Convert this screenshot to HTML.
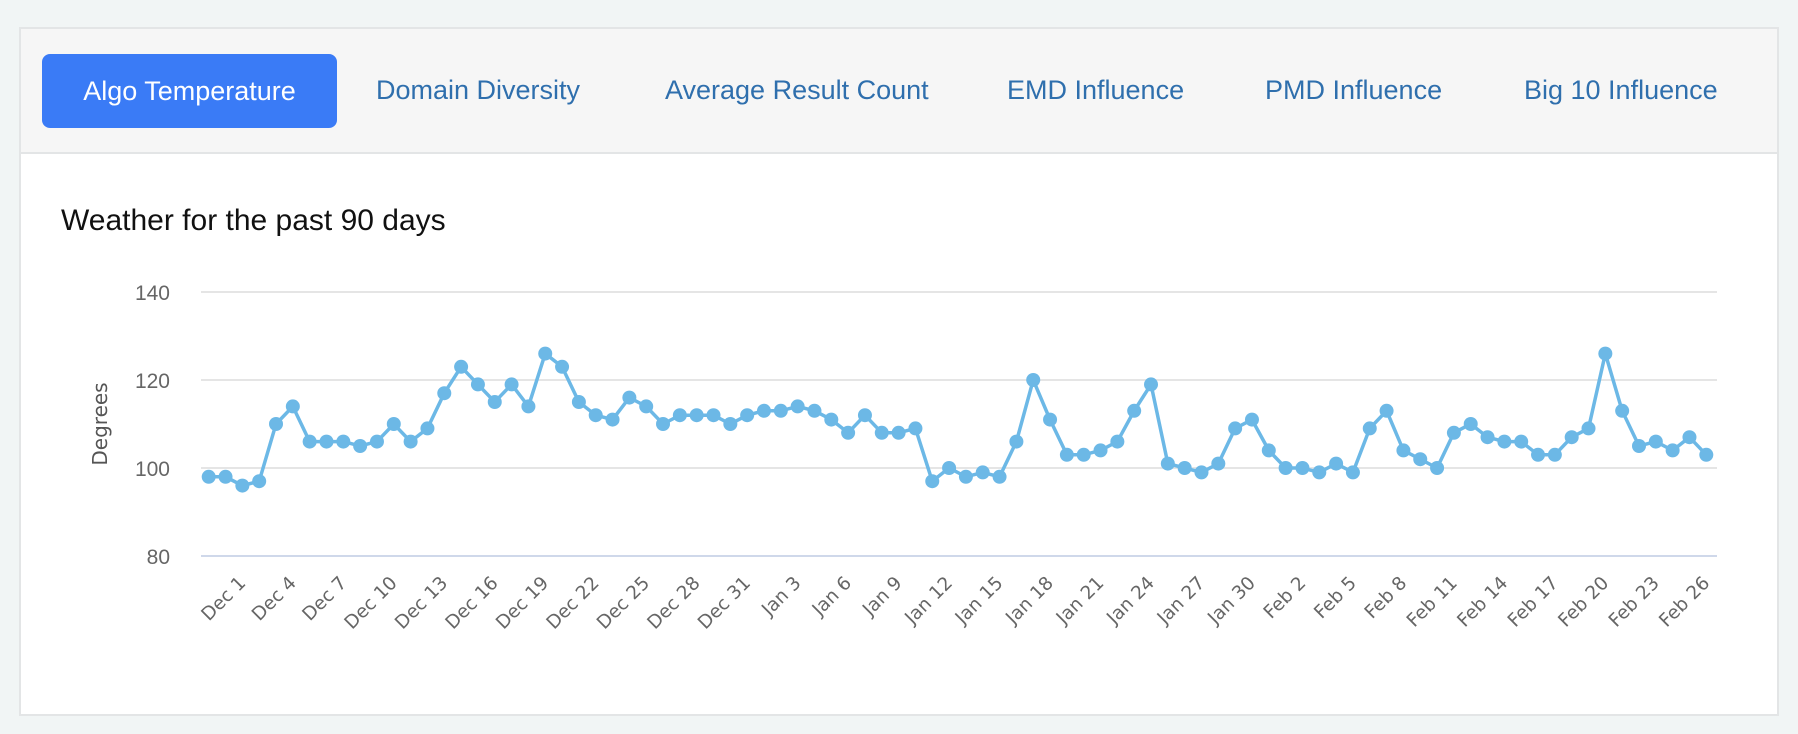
<!DOCTYPE html>
<html><head><meta charset="utf-8"><style>
body{margin:0;width:1798px;height:734px;background:#f1f5f5;font-family:"Liberation Sans",sans-serif;position:relative;overflow:hidden}
.card{position:absolute;left:19px;top:27px;width:1756px;height:685px;background:#fff;border:2px solid #e3e5e6}
.tabs{position:absolute;left:0;top:0;width:100%;height:123px;background:#f6f6f6;border-bottom:2px solid #e3e5e6}
.tab{position:absolute;top:0;height:123px;line-height:123px;font-size:27px;color:#2f6fad;white-space:nowrap}
.btn{position:absolute;left:21px;top:25px;width:295px;height:74px;background:#3a7bf6;border-radius:8px;color:#fff;font-size:27px;line-height:74px;text-align:center}
</style></head><body>
<div class="card">
 <div class="tabs">
  <div class="btn">Algo Temperature</div>
  <div class="tab" style="left:355px">Domain Diversity</div>
  <div class="tab" style="left:644px">Average Result Count</div>
  <div class="tab" style="left:986px">EMD Influence</div>
  <div class="tab" style="left:1244px">PMD Influence</div>
  <div class="tab" style="left:1503px">Big 10 Influence</div>
 </div>
</div>
<svg id="chart" width="1798" height="734" style="position:absolute;left:0;top:0">
 <text x="61" y="230" font-size="30" fill="#111" font-family="Liberation Sans, sans-serif">Weather for the past 90 days</text>
 <text transform="translate(107,424) rotate(-90)" text-anchor="middle" font-size="20" fill="#555" font-family="DejaVu Sans, sans-serif">Degrees</text>
 <g id="grid"></g><g id="xl"></g><g id="series"></g>
</svg>
<script>
const yTicks=[80,100,120,140];
const dates=[];
const months=[["Dec",31],["Jan",31],["Feb",28]];
for(const [m,n] of months){for(let d=1;d<=n;d++)dates.push(m+" "+d);}
const temps=[98,98,96,97,110,114,106,106,106,105,106,110,106,109,117,123,119,115,119,114,126,123,115,112,111,116,114,110,112,112,112,
110,112,113,113,114,113,111,108,112,108,108,109,97,100,98,99,98,106,120,111,103,103,104,106,113,119,101,100,99,101,109,
111,104,100,100,99,101,99,109,113,104,102,100,108,110,107,106,106,103,103,107,109,126,113,105,106,104,107,103];
const NS="http://www.w3.org/2000/svg";
const x0=208.7,x1=1706.3,yMin=80,yMax=140,py0=556,py1=292;
function xs(i){return x0+(x1-x0)*i/(dates.length-1);}
function ys(v){return py0-(v-yMin)/(yMax-yMin)*(py0-py1);}
function mk(t,a,p){const e=document.createElementNS(NS,t);for(const k in a)e.setAttribute(k,a[k]);p.appendChild(e);return e;}
const grid=document.getElementById('grid');
yTicks.forEach(v=>{
 const l=mk('line',{x1:201,x2:1717,y1:ys(v),y2:ys(v),stroke:v===80?'#cfd8ea':'#e5e5e5','stroke-width':2},grid);
 
 
 const t=mk('text',{x:170,y:ys(v)+8,'text-anchor':'end','font-size':21,fill:'#666','font-family':'Liberation Sans, sans-serif'},grid);
 t.textContent=v;
 
 
});
const xl=document.getElementById('xl');
dates.forEach((d,i)=>{
 if(i%3)return;
 const t=mk('text',{transform:`translate(${xs(i)+38},584) rotate(-45)`,'text-anchor':'end','font-size':18.5,fill:'#666','font-family':'DejaVu Sans, sans-serif'},xl);
 t.textContent=d;
 
 
});
const s=document.getElementById('series');
const pl=mk('polyline',{points:temps.map((v,i)=>xs(i)+','+ys(v)).join(' '),fill:'none',stroke:'#6cb8e6','stroke-width':3.5},s);


temps.forEach((v,i)=>{
 const c=mk('circle',{cx:xs(i),cy:ys(v),r:7,fill:'#6cb8e6'},s);
 
 
});
</script>
</body></html>
